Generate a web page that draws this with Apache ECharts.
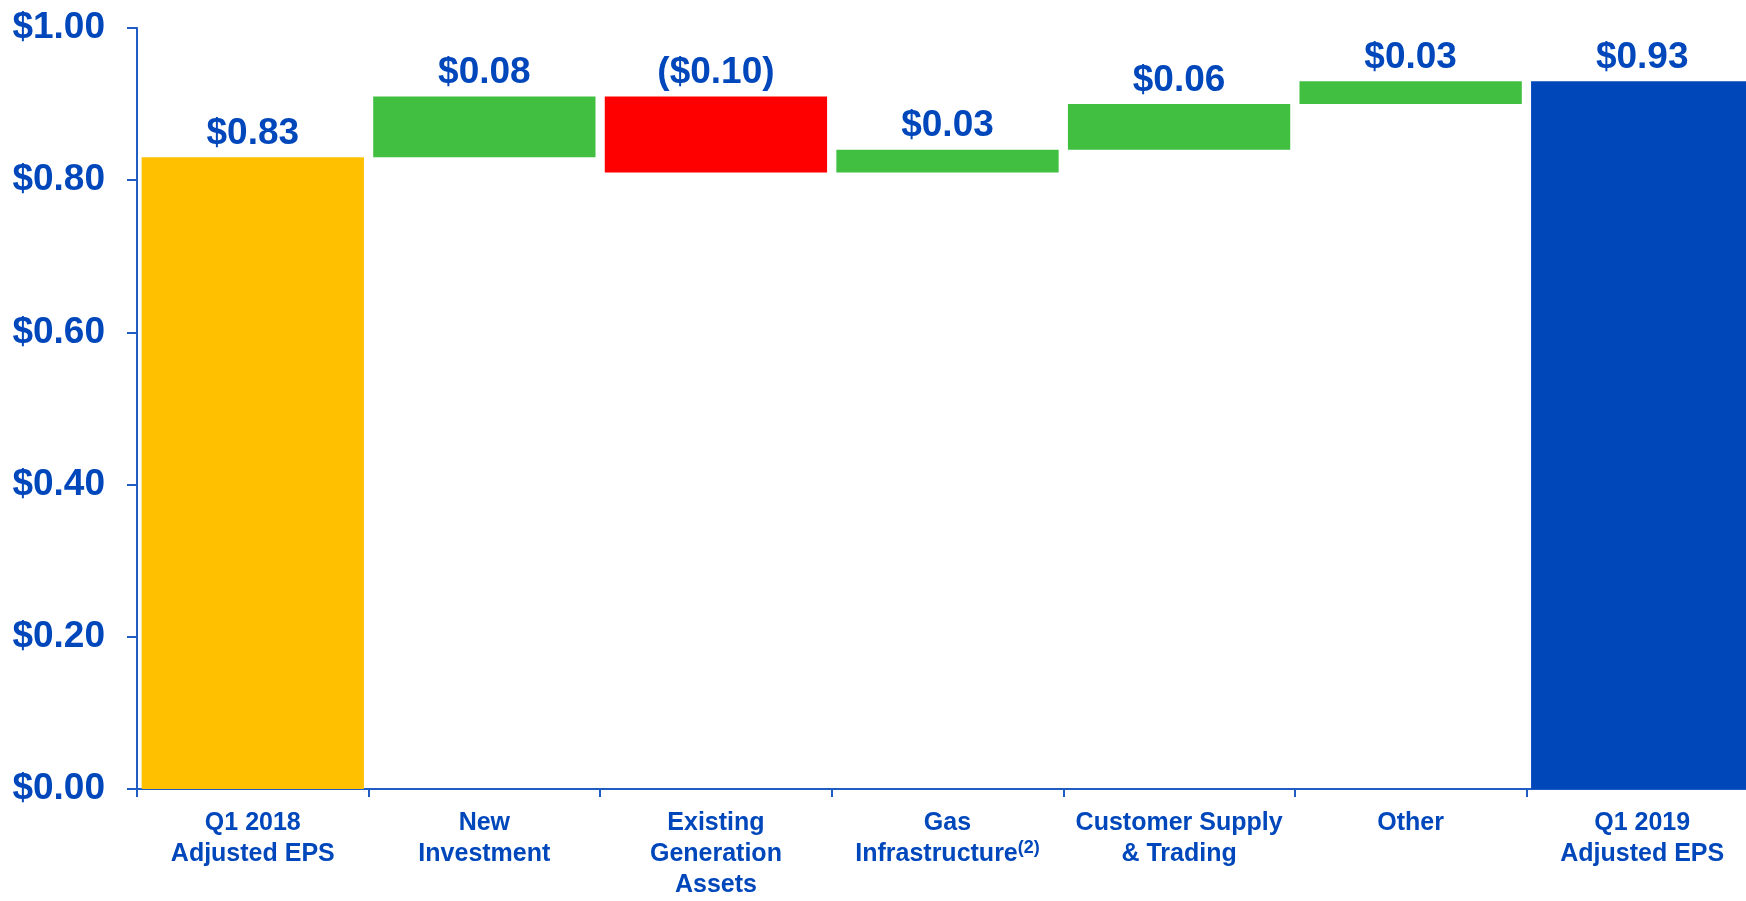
<!DOCTYPE html>
<html>
<head>
<meta charset="utf-8">
<script src="https://cdn.jsdelivr.net/npm/echarts@6/dist/echarts.min.js"></script>
<style>
html,body{margin:0;padding:0;background:#fff;overflow:hidden;}
#chart{width:1758px;height:901px;}
</style>
</head>
<body>
<div id="chart"></div>
<script>
// waterfall: Q1 2018 -> Q1 2019 adjusted EPS
var categories = ['Q1 2018\nAdjusted EPS', 'New\nInvestment', 'Existing\nGeneration\nAssets',
	'Gas\nInfrastructure{sup|(2)}', 'Customer Supply\n& Trading', 'Other', 'Q1 2019\nAdjusted EPS'];
var changes = [0.83, 0.08, -0.10, 0.03, 0.06, 0.03, 0.93];
var isTotal = [true, false, false, false, false, false, true];
var barColors = ['#FFC000', '#40BF40', '#FF0000', '#40BF40', '#40BF40', '#40BF40', '#0047BA'];

var textBlue = '#0047BB';
var axisBlue = '#1F5CC4';
var font = 'Liberation Sans, Arial, sans-serif';

// build base (invisible) + visible part
var baseData = [];
var showData = [];
var running = 0;
for (var i = 0; i < changes.length; i++) {
	var v = changes[i];
	if (isTotal[i]) {
		baseData.push(0);
		showData.push({value: v, itemStyle: {color: barColors[i]}});
		running = v;
	} else {
		var next = running + v;
		baseData.push(+Math.min(running, next).toFixed(4));
		showData.push({value: +Math.abs(v).toFixed(4), itemStyle: {color: barColors[i]}});
		running = next;
	}
}

function money(v) {
	if (v < 0) return '($' + Math.abs(v).toFixed(2) + ')';
	return '$' + v.toFixed(2);
}

var myChart = echarts.init(document.getElementById('chart'));
var option = {
	animation: false,
	backgroundColor: '#fff',
	// plot runs a bit past the right edge of the window, like the original slide
	grid: {left: 137, right: 0, top: 28, bottom: 103, containLabel: false},
	xAxis: {
		type: 'category',
		data: categories,
		axisLine: {lineStyle: {color: axisBlue, width: 2}},
		axisTick: {show: true, length: 8, lineStyle: {color: axisBlue, width: 2}},
		axisLabel: {
			interval: 0,
			margin: 19,
			color: textBlue,
			fontFamily: font,
			fontWeight: 'bold',
			fontSize: 25,
			lineHeight: 31,
			rich: {
				sup: {fontSize: 18, fontWeight: 'bold', color: textBlue, fontFamily: font,
					verticalAlign: 'top', lineHeight: 31, padding: [0, 0, 12, 0]}
			}
		}
	},
	yAxis: {
		type: 'value',
		min: 0,
		max: 1,
		interval: 0.2,
		splitLine: {show: false},
		axisLine: {show: true, lineStyle: {color: axisBlue, width: 2}},
		axisTick: {show: true, length: 10, lineStyle: {color: axisBlue, width: 2}},
		axisLabel: {
			margin: 32,
			color: textBlue,
			fontFamily: font,
			fontWeight: 'bold',
			fontSize: 37,
			formatter: function(v) { return '$' + v.toFixed(2); }
		}
	},
	series: [
		{
			type: 'bar',
			stack: 'wf',
			data: baseData,
			itemStyle: {color: 'transparent'},
			silent: true,
			barCategoryGap: '4%'
		},
		{
			type: 'bar',
			stack: 'wf',
			data: showData,
			barCategoryGap: '4%',
			label: {
				show: true,
				position: 'top',
				distance: 5,
				color: textBlue,
				fontFamily: font,
				fontWeight: 'bold',
				fontSize: 37,
				formatter: function(p) { return money(changes[p.dataIndex]); }
			}
		}
	]
};
myChart.setOption(option);
</script>
</body>
</html>
